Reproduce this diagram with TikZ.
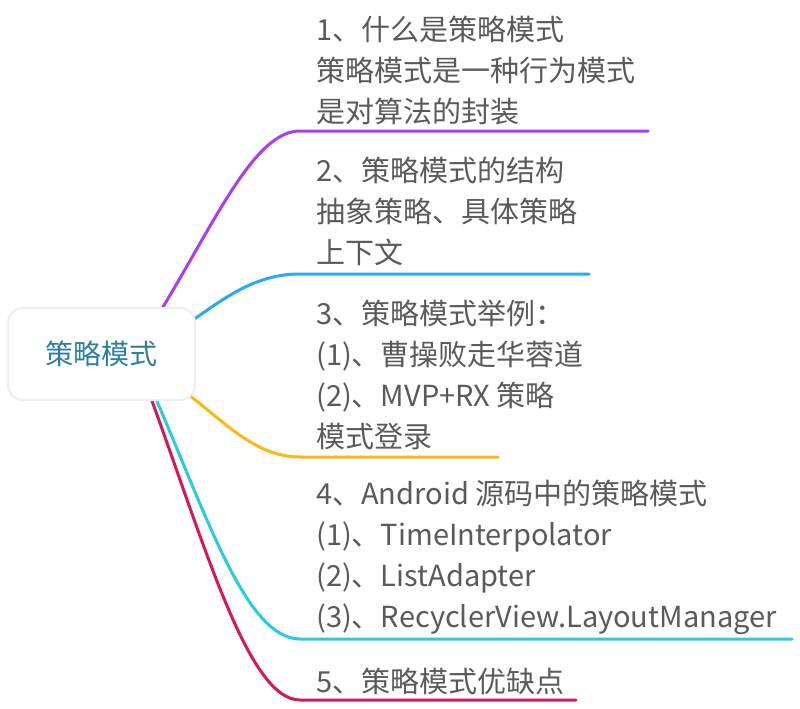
\documentclass[tikz,border=0pt]{standalone}
\usepackage{fontspec}
\setmainfont{Noto Sans CJK SC}
\definecolor{txtgray}{HTML}{5A5A5A}
\definecolor{rootteal}{HTML}{2C7F9F}
\definecolor{rootborder}{HTML}{EEEEEE}
\definecolor{cpurple}{HTML}{AA3DF3}
\definecolor{cblue}{HTML}{2BA9F5}
\definecolor{cyellow}{HTML}{FDB813}
\definecolor{ccyan}{HTML}{26CCE0}
\definecolor{cpink}{HTML}{D6185A}
\begin{document}
\begin{tikzpicture}[x=1pt,y=-1pt,
  branch/.style={line width=3pt, line cap=round},
  btext/.style={anchor=base west, inner sep=0pt, align=left, text=txtgray, font=\fontsize{29}{40.7}\selectfont},
  rootbox/.style={draw=rootborder, line width=2pt, fill=white, rounded corners=15pt, minimum width=187pt, minimum height=92pt, inner sep=0pt, text=rootteal, font=\fontsize{28}{34}\selectfont}]
\useasboundingbox[fill=white] (0,0) rectangle (800,709);

% start points (hidden under the root box) and end points
\coordinate (s1) at (160,312);
\coordinate (s2) at (190,322);
\coordinate (s3) at (185,392);
\coordinate (s4) at (152,390);
\coordinate (s5) at (148,390);
\coordinate (m1) at (300,131);
\coordinate (m2) at (300,274);
\coordinate (m3) at (300,457);
\coordinate (m4) at (300,639);
\coordinate (m5) at (300,700);
\coordinate (e1) at (648,131);
\coordinate (e2) at (589,274);
\coordinate (e3) at (498,457);
\coordinate (e4) at (792,639);
\coordinate (e5) at (576,700);

\draw[branch, cpurple] (s1) .. controls (217,218) and (255,131) .. (m1) -- (e1);
\draw[branch, cblue] (s2) .. controls (225,298) and (255,274) .. (m2) -- (e2);
\draw[branch, cyellow] (s3) .. controls (225,422) and (255,457) .. (m3) -- (e3);
\draw[branch, ccyan] (s4) .. controls (205,510) and (245,639) .. (m4) -- (e4);
\draw[branch, cpink] (s5) .. controls (205,545) and (248,700) .. (m5) -- (e5);

\node[rootbox] (root) at (101.5,354) {策略模式};

\node[btext] (t1) at (316,122) {1、什么是策略模式\\策略模式是一种行为模式\\是对算法的封装};
\node[btext] (t2) at (316,263) {2、策略模式的结构\\抽象策略、具体策略\\上下文};
\node[btext] (t3) at (316,447) {3、策略模式举例：\\(1)、曹操败走华蓉道\\(2)、MVP+RX 策略\\模式登录};
\node[btext] (t4) at (316,627) {4、Android 源码中的策略模式\\(1)、TimeInterpolator\\(2)、ListAdapter\\(3)、RecyclerView.LayoutManager};
\node[btext] (t5) at (316,692) {5、策略模式优缺点};
\end{tikzpicture}
\end{document}
